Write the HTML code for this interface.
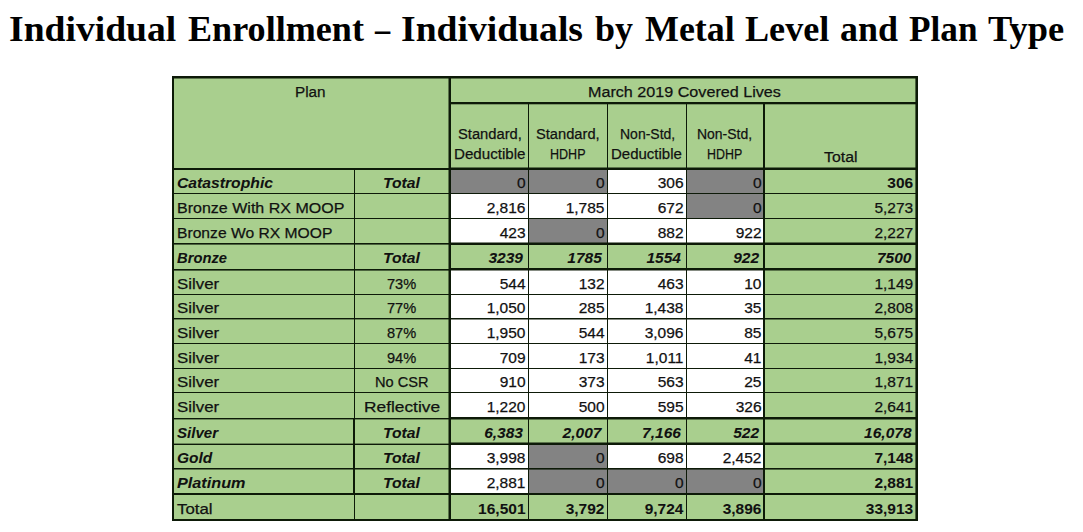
<!DOCTYPE html>
<html><head><meta charset="utf-8"><style>
html,body{margin:0;padding:0;background:#fff;}
body{width:1083px;height:532px;position:relative;overflow:hidden;}
.r{position:absolute;}
.t,.tb,.tbi,.ti,.title{position:absolute;white-space:nowrap;font-family:"Liberation Sans",sans-serif;font-size:15.5px;line-height:18px;color:#111;transform-origin:0 0;-webkit-text-stroke:0.25px #111;}
.tb{font-weight:bold;-webkit-text-stroke:0.05px #111;}
.tbi{font-weight:bold;font-style:italic;-webkit-text-stroke:0.05px #111;}
.ti{font-style:italic;}
.title{font-family:"Liberation Serif",serif;font-weight:bold;font-size:35.5px;line-height:40px;color:#000;-webkit-text-stroke:0;}
</style></head><body>
<div class="r" style="left:172px;top:76px;width:746px;height:445px;background:#a9cf8e"></div>
<div class="r" style="left:449px;top:168px;width:79px;height:25px;background:#838383"></div>
<div class="r" style="left:528px;top:168px;width:79px;height:25px;background:#838383"></div>
<div class="r" style="left:607px;top:168px;width:79px;height:25px;background:#ffffff"></div>
<div class="r" style="left:686px;top:168px;width:78px;height:25px;background:#838383"></div>
<div class="r" style="left:449px;top:193px;width:79px;height:25px;background:#ffffff"></div>
<div class="r" style="left:528px;top:193px;width:79px;height:25px;background:#ffffff"></div>
<div class="r" style="left:607px;top:193px;width:79px;height:25px;background:#ffffff"></div>
<div class="r" style="left:686px;top:193px;width:78px;height:25px;background:#838383"></div>
<div class="r" style="left:449px;top:218px;width:79px;height:25px;background:#ffffff"></div>
<div class="r" style="left:528px;top:218px;width:79px;height:25px;background:#838383"></div>
<div class="r" style="left:607px;top:218px;width:79px;height:25px;background:#ffffff"></div>
<div class="r" style="left:686px;top:218px;width:78px;height:25px;background:#ffffff"></div>
<div class="r" style="left:449px;top:269px;width:79px;height:25px;background:#ffffff"></div>
<div class="r" style="left:528px;top:269px;width:79px;height:25px;background:#ffffff"></div>
<div class="r" style="left:607px;top:269px;width:79px;height:25px;background:#ffffff"></div>
<div class="r" style="left:686px;top:269px;width:78px;height:25px;background:#ffffff"></div>
<div class="r" style="left:449px;top:294px;width:79px;height:24px;background:#ffffff"></div>
<div class="r" style="left:528px;top:294px;width:79px;height:24px;background:#ffffff"></div>
<div class="r" style="left:607px;top:294px;width:79px;height:24px;background:#ffffff"></div>
<div class="r" style="left:686px;top:294px;width:78px;height:24px;background:#ffffff"></div>
<div class="r" style="left:449px;top:318px;width:79px;height:25px;background:#ffffff"></div>
<div class="r" style="left:528px;top:318px;width:79px;height:25px;background:#ffffff"></div>
<div class="r" style="left:607px;top:318px;width:79px;height:25px;background:#ffffff"></div>
<div class="r" style="left:686px;top:318px;width:78px;height:25px;background:#ffffff"></div>
<div class="r" style="left:449px;top:343px;width:79px;height:25px;background:#ffffff"></div>
<div class="r" style="left:528px;top:343px;width:79px;height:25px;background:#ffffff"></div>
<div class="r" style="left:607px;top:343px;width:79px;height:25px;background:#ffffff"></div>
<div class="r" style="left:686px;top:343px;width:78px;height:25px;background:#ffffff"></div>
<div class="r" style="left:449px;top:368px;width:79px;height:24px;background:#ffffff"></div>
<div class="r" style="left:528px;top:368px;width:79px;height:24px;background:#ffffff"></div>
<div class="r" style="left:607px;top:368px;width:79px;height:24px;background:#ffffff"></div>
<div class="r" style="left:686px;top:368px;width:78px;height:24px;background:#ffffff"></div>
<div class="r" style="left:449px;top:392px;width:79px;height:26px;background:#ffffff"></div>
<div class="r" style="left:528px;top:392px;width:79px;height:26px;background:#ffffff"></div>
<div class="r" style="left:607px;top:392px;width:79px;height:26px;background:#ffffff"></div>
<div class="r" style="left:686px;top:392px;width:78px;height:26px;background:#ffffff"></div>
<div class="r" style="left:449px;top:443px;width:79px;height:25px;background:#ffffff"></div>
<div class="r" style="left:528px;top:443px;width:79px;height:25px;background:#838383"></div>
<div class="r" style="left:607px;top:443px;width:79px;height:25px;background:#ffffff"></div>
<div class="r" style="left:686px;top:443px;width:78px;height:25px;background:#ffffff"></div>
<div class="r" style="left:449px;top:468px;width:79px;height:25px;background:#ffffff"></div>
<div class="r" style="left:528px;top:468px;width:79px;height:25px;background:#838383"></div>
<div class="r" style="left:607px;top:468px;width:79px;height:25px;background:#838383"></div>
<div class="r" style="left:686px;top:468px;width:78px;height:25px;background:#838383"></div>
<div class="r" style="left:172px;top:168px;width:278px;height:1px;background:#0d1a08"></div>
<div class="r" style="left:172px;top:169px;width:278px;height:1px;background:#0d1a08"></div>
<div class="r" style="left:450px;top:167px;width:468px;height:1px;background:rgba(13,26,8,0.5)"></div>
<div class="r" style="left:450px;top:168px;width:468px;height:1px;background:#0d1a08"></div>
<div class="r" style="left:450px;top:169px;width:468px;height:1px;background:#0d1a08"></div>
<div class="r" style="left:172px;top:193px;width:278px;height:1px;background:#0d1a08"></div>
<div class="r" style="left:450px;top:193px;width:468px;height:1px;background:#0d1a08"></div>
<div class="r" style="left:172px;top:218px;width:278px;height:1px;background:#0d1a08"></div>
<div class="r" style="left:450px;top:218px;width:468px;height:1px;background:#0d1a08"></div>
<div class="r" style="left:172px;top:243px;width:278px;height:1px;background:#0d1a08"></div>
<div class="r" style="left:172px;top:244px;width:278px;height:1px;background:rgba(13,26,8,0.6)"></div>
<div class="r" style="left:450px;top:242px;width:468px;height:1px;background:rgba(13,26,8,0.5)"></div>
<div class="r" style="left:450px;top:243px;width:468px;height:1px;background:#0d1a08"></div>
<div class="r" style="left:450px;top:244px;width:468px;height:1px;background:#0d1a08"></div>
<div class="r" style="left:172px;top:269px;width:278px;height:1px;background:#0d1a08"></div>
<div class="r" style="left:172px;top:270px;width:278px;height:1px;background:rgba(13,26,8,0.6)"></div>
<div class="r" style="left:450px;top:268px;width:468px;height:1px;background:#0d1a08"></div>
<div class="r" style="left:450px;top:269px;width:468px;height:1px;background:#0d1a08"></div>
<div class="r" style="left:450px;top:270px;width:468px;height:1px;background:rgba(13,26,8,0.5)"></div>
<div class="r" style="left:172px;top:294px;width:278px;height:1px;background:#0d1a08"></div>
<div class="r" style="left:450px;top:294px;width:468px;height:1px;background:#0d1a08"></div>
<div class="r" style="left:172px;top:318px;width:278px;height:1px;background:#0d1a08"></div>
<div class="r" style="left:172px;top:319px;width:278px;height:1px;background:rgba(13,26,8,0.4)"></div>
<div class="r" style="left:450px;top:318px;width:468px;height:1px;background:#0d1a08"></div>
<div class="r" style="left:450px;top:319px;width:468px;height:1px;background:rgba(13,26,8,0.5)"></div>
<div class="r" style="left:172px;top:343px;width:278px;height:1px;background:#0d1a08"></div>
<div class="r" style="left:450px;top:343px;width:468px;height:1px;background:#0d1a08"></div>
<div class="r" style="left:172px;top:368px;width:278px;height:1px;background:#0d1a08"></div>
<div class="r" style="left:450px;top:368px;width:468px;height:1px;background:#0d1a08"></div>
<div class="r" style="left:172px;top:392px;width:278px;height:1px;background:#0d1a08"></div>
<div class="r" style="left:450px;top:392px;width:468px;height:1px;background:#0d1a08"></div>
<div class="r" style="left:172px;top:418px;width:278px;height:1px;background:#0d1a08"></div>
<div class="r" style="left:172px;top:419px;width:278px;height:1px;background:rgba(13,26,8,0.4)"></div>
<div class="r" style="left:450px;top:417px;width:468px;height:1px;background:#0d1a08"></div>
<div class="r" style="left:450px;top:418px;width:468px;height:1px;background:#0d1a08"></div>
<div class="r" style="left:450px;top:419px;width:468px;height:1px;background:rgba(13,26,8,0.5)"></div>
<div class="r" style="left:172px;top:443px;width:278px;height:1px;background:rgba(13,26,8,0.4)"></div>
<div class="r" style="left:172px;top:444px;width:278px;height:1px;background:#0d1a08"></div>
<div class="r" style="left:450px;top:442px;width:468px;height:1px;background:rgba(13,26,8,0.5)"></div>
<div class="r" style="left:450px;top:443px;width:468px;height:1px;background:#0d1a08"></div>
<div class="r" style="left:450px;top:444px;width:468px;height:1px;background:#0d1a08"></div>
<div class="r" style="left:172px;top:468px;width:278px;height:1px;background:#0d1a08"></div>
<div class="r" style="left:172px;top:469px;width:278px;height:1px;background:rgba(13,26,8,0.5)"></div>
<div class="r" style="left:450px;top:468px;width:468px;height:1px;background:#0d1a08"></div>
<div class="r" style="left:450px;top:469px;width:468px;height:1px;background:rgba(13,26,8,0.6)"></div>
<div class="r" style="left:172px;top:493px;width:278px;height:1px;background:#0d1a08"></div>
<div class="r" style="left:172px;top:494px;width:278px;height:1px;background:#0d1a08"></div>
<div class="r" style="left:450px;top:493px;width:468px;height:1px;background:#0d1a08"></div>
<div class="r" style="left:450px;top:494px;width:468px;height:1px;background:#0d1a08"></div>
<div class="r" style="left:172px;top:76px;width:746px;height:1px;background:#0d1a08"></div>
<div class="r" style="left:172px;top:77px;width:746px;height:1px;background:#0d1a08"></div>
<div class="r" style="left:172px;top:78px;width:746px;height:1px;background:rgba(13,26,8,0.5)"></div>
<div class="r" style="left:450px;top:102px;width:468px;height:1px;background:#0d1a08"></div>
<div class="r" style="left:450px;top:103px;width:468px;height:1px;background:#0d1a08"></div>
<div class="r" style="left:450px;top:104px;width:468px;height:1px;background:rgba(13,26,8,0.3)"></div>
<div class="r" style="left:172px;top:519px;width:746px;height:1px;background:#0d1a08"></div>
<div class="r" style="left:172px;top:520px;width:746px;height:1px;background:#0d1a08"></div>
<div class="r" style="left:172px;top:76px;width:1px;height:445px;background:#0d1a08"></div>
<div class="r" style="left:173px;top:76px;width:1px;height:445px;background:#0d1a08"></div>
<div class="r" style="left:915px;top:76px;width:1px;height:445px;background:rgba(13,26,8,0.6)"></div>
<div class="r" style="left:916px;top:76px;width:1px;height:445px;background:#0d1a08"></div>
<div class="r" style="left:917px;top:76px;width:1px;height:445px;background:#0d1a08"></div>
<div class="r" style="left:448px;top:76px;width:1px;height:445px;background:rgba(13,26,8,0.5)"></div>
<div class="r" style="left:449px;top:76px;width:1px;height:445px;background:#0d1a08"></div>
<div class="r" style="left:450px;top:76px;width:1px;height:445px;background:#0d1a08"></div>
<div class="r" style="left:763px;top:102px;width:1px;height:419px;background:#0d1a08"></div>
<div class="r" style="left:764px;top:102px;width:1px;height:419px;background:#0d1a08"></div>
<div class="r" style="left:528px;top:102px;width:1px;height:419px;background:#0d1a08"></div>
<div class="r" style="left:607px;top:102px;width:1px;height:419px;background:#0d1a08"></div>
<div class="r" style="left:686px;top:102px;width:1px;height:419px;background:#0d1a08"></div>
<div class="r" style="left:354px;top:168px;width:1px;height:353px;background:#0d1a08"></div>
<div class="r" style="left:353px;top:418px;width:1px;height:76px;background:#0d1a08"></div>
<div class="tbi" style="left:177.00px;top:173.60px;transform:scaleX(1.0132);">Catastrophic</div>
<div class="tbi" style="left:383.40px;top:173.60px;transform:scaleX(1.0122);">Total</div>
<div class="t" style="left:516.90px;top:173.60px;">0</div>
<div class="t" style="left:595.90px;top:173.60px;">0</div>
<div class="t" style="left:657.65px;top:173.60px;">306</div>
<div class="t" style="left:752.90px;top:173.60px;">0</div>
<div class="tb" style="left:887.35px;top:173.60px;">306</div>
<div class="t" style="left:177.00px;top:198.60px;transform:scaleX(1.0334);">Bronze With RX MOOP</div>
<div class="t" style="left:486.70px;top:198.60px;">2,816</div>
<div class="t" style="left:565.70px;top:198.60px;">1,785</div>
<div class="t" style="left:657.65px;top:198.60px;">672</div>
<div class="t" style="left:752.90px;top:198.60px;">0</div>
<div class="t" style="left:874.40px;top:198.60px;">5,273</div>
<div class="t" style="left:177.00px;top:223.60px;transform:scaleX(1.0097);">Bronze Wo RX MOOP</div>
<div class="t" style="left:499.65px;top:223.60px;">423</div>
<div class="t" style="left:595.90px;top:223.60px;">0</div>
<div class="t" style="left:657.65px;top:223.60px;">882</div>
<div class="t" style="left:735.65px;top:223.60px;">922</div>
<div class="t" style="left:874.40px;top:223.60px;">2,227</div>
<div class="tbi" style="left:177.00px;top:248.60px;transform:scaleX(0.9515);">Bronze</div>
<div class="tbi" style="left:383.40px;top:248.60px;transform:scaleX(1.0122);">Total</div>
<div class="tbi" style="left:488.50px;top:248.60px;">3239</div>
<div class="tbi" style="left:567.30px;top:248.60px;">1785</div>
<div class="tbi" style="left:646.50px;top:248.60px;">1554</div>
<div class="tbi" style="left:733.15px;top:248.60px;">922</div>
<div class="tbi" style="left:877.00px;top:248.60px;">7500</div>
<div class="t" style="left:177.00px;top:274.60px;transform:scaleX(1.0865);">Silver</div>
<div class="t" style="left:387.40px;top:274.60px;transform:scaleX(0.9419);">73%</div>
<div class="t" style="left:499.65px;top:274.60px;">544</div>
<div class="t" style="left:578.65px;top:274.60px;">132</div>
<div class="t" style="left:657.65px;top:274.60px;">463</div>
<div class="t" style="left:744.25px;top:274.60px;">10</div>
<div class="t" style="left:874.40px;top:274.60px;">1,149</div>
<div class="t" style="left:177.00px;top:298.60px;transform:scaleX(1.0865);">Silver</div>
<div class="t" style="left:387.40px;top:298.60px;transform:scaleX(0.9419);">77%</div>
<div class="t" style="left:486.70px;top:298.60px;">1,050</div>
<div class="t" style="left:578.65px;top:298.60px;">285</div>
<div class="t" style="left:644.70px;top:298.60px;">1,438</div>
<div class="t" style="left:744.25px;top:298.60px;">35</div>
<div class="t" style="left:874.40px;top:298.60px;">2,808</div>
<div class="t" style="left:177.00px;top:323.60px;transform:scaleX(1.0865);">Silver</div>
<div class="t" style="left:387.40px;top:323.60px;transform:scaleX(0.9419);">87%</div>
<div class="t" style="left:486.70px;top:323.60px;">1,950</div>
<div class="t" style="left:578.65px;top:323.60px;">544</div>
<div class="t" style="left:644.70px;top:323.60px;">3,096</div>
<div class="t" style="left:744.25px;top:323.60px;">85</div>
<div class="t" style="left:874.40px;top:323.60px;">5,675</div>
<div class="t" style="left:177.00px;top:348.60px;transform:scaleX(1.0865);">Silver</div>
<div class="t" style="left:387.40px;top:348.60px;transform:scaleX(0.9419);">94%</div>
<div class="t" style="left:499.65px;top:348.60px;">709</div>
<div class="t" style="left:578.65px;top:348.60px;">173</div>
<div class="t" style="left:645.85px;top:348.60px;">1,011</div>
<div class="t" style="left:744.25px;top:348.60px;">41</div>
<div class="t" style="left:874.40px;top:348.60px;">1,934</div>
<div class="t" style="left:177.00px;top:372.60px;transform:scaleX(1.0865);">Silver</div>
<div class="t" style="left:375.25px;top:372.60px;transform:scaleX(0.9411);">No CSR</div>
<div class="t" style="left:499.65px;top:372.60px;">910</div>
<div class="t" style="left:578.65px;top:372.60px;">373</div>
<div class="t" style="left:657.65px;top:372.60px;">563</div>
<div class="t" style="left:744.25px;top:372.60px;">25</div>
<div class="t" style="left:874.40px;top:372.60px;">1,871</div>
<div class="t" style="left:177.00px;top:397.60px;transform:scaleX(1.0865);">Silver</div>
<div class="t" style="left:364.00px;top:397.60px;transform:scaleX(1.1168);">Reflective</div>
<div class="t" style="left:486.70px;top:397.60px;">1,220</div>
<div class="t" style="left:578.65px;top:397.60px;">500</div>
<div class="t" style="left:657.65px;top:397.60px;">595</div>
<div class="t" style="left:735.65px;top:397.60px;">326</div>
<div class="t" style="left:874.40px;top:397.60px;">2,641</div>
<div class="tbi" style="left:177.00px;top:423.60px;transform:scaleX(0.9732);">Silver</div>
<div class="tbi" style="left:383.40px;top:423.60px;transform:scaleX(1.0122);">Total</div>
<div class="tbi" style="left:484.20px;top:423.60px;">6,383</div>
<div class="tbi" style="left:562.60px;top:423.60px;">2,007</div>
<div class="tbi" style="left:642.10px;top:423.60px;">7,166</div>
<div class="tbi" style="left:733.15px;top:423.60px;">522</div>
<div class="tbi" style="left:864.10px;top:423.60px;">16,078</div>
<div class="tbi" style="left:177.00px;top:448.60px;">Gold</div>
<div class="tbi" style="left:383.40px;top:448.60px;transform:scaleX(1.0122);">Total</div>
<div class="t" style="left:486.70px;top:448.60px;">3,998</div>
<div class="t" style="left:595.90px;top:448.60px;">0</div>
<div class="t" style="left:657.65px;top:448.60px;">698</div>
<div class="t" style="left:722.70px;top:448.60px;">2,452</div>
<div class="tb" style="left:874.40px;top:448.60px;">7,148</div>
<div class="tbi" style="left:177.00px;top:473.60px;transform:scaleX(1.0466);">Platinum</div>
<div class="tbi" style="left:383.40px;top:473.60px;transform:scaleX(1.0122);">Total</div>
<div class="t" style="left:486.70px;top:473.60px;">2,881</div>
<div class="t" style="left:595.90px;top:473.60px;">0</div>
<div class="t" style="left:674.90px;top:473.60px;">0</div>
<div class="t" style="left:752.90px;top:473.60px;">0</div>
<div class="tb" style="left:874.40px;top:473.60px;">2,881</div>
<div class="t" style="left:177.00px;top:499.60px;transform:scaleX(1.0840);">Total</div>
<div class="tb" style="left:478.10px;top:499.60px;">16,501</div>
<div class="tb" style="left:565.70px;top:499.60px;">3,792</div>
<div class="tb" style="left:644.70px;top:499.60px;">9,724</div>
<div class="tb" style="left:722.70px;top:499.60px;">3,896</div>
<div class="tb" style="left:865.80px;top:499.60px;">33,913</div>
<div class="t" style="left:294.70px;top:82.60px;transform:scaleX(0.9839);">Plan</div>
<div class="t" style="left:587.80px;top:82.60px;transform:scaleX(1.0413);">March 2019 Covered Lives</div>
<div class="t" style="left:457.50px;top:124.50px;transform:scaleX(0.9509);">Standard,</div>
<div class="t" style="left:536.40px;top:124.50px;transform:scaleX(0.9464);">Standard,</div>
<div class="t" style="left:620.00px;top:124.50px;transform:scaleX(0.9027);">Non-Std,</div>
<div class="t" style="left:697.40px;top:124.50px;transform:scaleX(0.9011);">Non-Std,</div>
<div class="t" style="left:454.20px;top:145.30px;transform:scaleX(0.9761);">Deductible</div>
<div class="t" style="left:550.10px;top:145.30px;transform:scaleX(0.8087);">HDHP</div>
<div class="t" style="left:611.40px;top:145.30px;transform:scaleX(0.9679);">Deductible</div>
<div class="t" style="left:707.40px;top:145.30px;transform:scaleX(0.8018);">HDHP</div>
<div class="t" style="left:824.00px;top:148.20px;transform:scaleX(1.0229);">Total</div>
<div class="title" style="left:9.20px;top:9.00px;transform:scaleX(1.0595);">Individual</div>
<div class="title" style="left:188.00px;top:9.00px;transform:scaleX(1.0179);">Enrollment</div>
<div class="title" style="left:375.21px;top:9.00px;transform:scaleX(0.8548);">–</div>
<div class="title" style="left:401.20px;top:9.00px;transform:scaleX(1.0600);">Individuals</div>
<div class="title" style="left:595.00px;top:9.00px;transform:scaleX(1.0133);">by</div>
<div class="title" style="left:644.50px;top:9.00px;transform:scaleX(1.0113);">Metal</div>
<div class="title" style="left:745.20px;top:9.00px;transform:scaleX(1.0181);">Level</div>
<div class="title" style="left:839.90px;top:9.00px;transform:scaleX(1.0114);">and</div>
<div class="title" style="left:909.00px;top:9.00px;transform:scaleX(0.9920);">Plan</div>
<div class="title" style="left:987.50px;top:9.00px;transform:scaleX(1.0242);">Type</div>
</body></html>
